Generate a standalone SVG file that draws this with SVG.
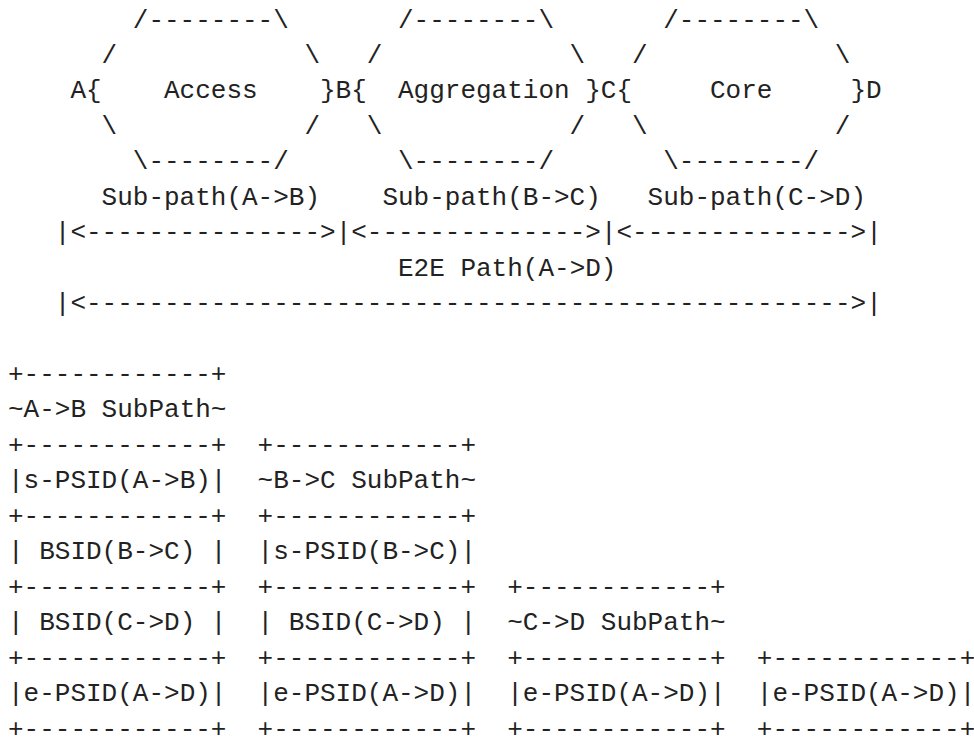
<svg xmlns="http://www.w3.org/2000/svg" width="974" height="738" viewBox="0 0 974 738">
<style>
text { font-family: "Liberation Mono", "DejaVu Sans Mono", monospace; font-size: 26px; fill: #222222; white-space: pre; }
</style>
<rect x="0" y="0" width="974" height="738" fill="#ffffff"/>
<g id="hex-access">
<text x="132.8" y="27.5">/--------\</text>
<text x="101.6" y="62.95">/</text>
<text x="304.4" y="62.95">\</text>
<text x="86" y="98.4">{</text>
<text x="164" y="98.4">Access</text>
<text x="320" y="98.4">}</text>
<text x="101.6" y="133.85">\</text>
<text x="304.4" y="133.85">/</text>
<text x="132.8" y="169.3">\--------/</text>
</g>
<g id="hex-aggregation">
<text x="398" y="27.5">/--------\</text>
<text x="366.8" y="62.95">/</text>
<text x="569.6" y="62.95">\</text>
<text x="351.2" y="98.4">{</text>
<text x="398" y="98.4">Aggregation</text>
<text x="585.2" y="98.4">}</text>
<text x="366.8" y="133.85">\</text>
<text x="569.6" y="133.85">/</text>
<text x="398" y="169.3">\--------/</text>
</g>
<g id="hex-core">
<text x="663.2" y="27.5">/--------\</text>
<text x="632" y="62.95">/</text>
<text x="834.8" y="62.95">\</text>
<text x="616.4" y="98.4">{</text>
<text x="710" y="98.4">Core</text>
<text x="850.4" y="98.4">}</text>
<text x="632" y="133.85">\</text>
<text x="834.8" y="133.85">/</text>
<text x="663.2" y="169.3">\--------/</text>
</g>
<g id="points">
<text x="70.4" y="98.4">A</text>
<text x="335.6" y="98.4">B</text>
<text x="600.8" y="98.4">C</text>
<text x="866" y="98.4">D</text>
</g>
<g id="connectors">
<text x="101.6" y="204.75">Sub-path(A-&gt;B)</text>
<text x="382.4" y="204.75">Sub-path(B-&gt;C)</text>
<text x="647.6" y="204.75">Sub-path(C-&gt;D)</text>
<text x="54.8" y="240.2">|&lt;---------------&gt;|&lt;--------------&gt;|&lt;--------------&gt;|</text>
<text x="398" y="275.65">E2E Path(A-&gt;D)</text>
<text x="54.8" y="311.1">|&lt;-------------------------------------------------&gt;|</text>
</g>
<g id="stack-ab">
<text x="8" y="382">+------------+</text>
<text x="8" y="417.45">~A-&gt;B SubPath~</text>
<text x="8" y="452.9">+------------+</text>
<text x="8" y="488.35">|s-PSID(A-&gt;B)|</text>
<text x="8" y="523.8">+------------+</text>
<text x="8" y="559.25" xml:space="preserve">| BSID(B-&gt;C) |</text>
<text x="8" y="594.7">+------------+</text>
<text x="8" y="630.15" xml:space="preserve">| BSID(C-&gt;D) |</text>
<text x="8" y="665.6">+------------+</text>
<text x="8" y="701.05">|e-PSID(A-&gt;D)|</text>
<text x="8" y="736.5">+------------+</text>
</g>
<g id="stack-bc">
<text x="257.6" y="452.9">+------------+</text>
<text x="257.6" y="488.35">~B-&gt;C SubPath~</text>
<text x="257.6" y="523.8">+------------+</text>
<text x="257.6" y="559.25">|s-PSID(B-&gt;C)|</text>
<text x="257.6" y="594.7">+------------+</text>
<text x="257.6" y="630.15" xml:space="preserve">| BSID(C-&gt;D) |</text>
<text x="257.6" y="665.6">+------------+</text>
<text x="257.6" y="701.05">|e-PSID(A-&gt;D)|</text>
<text x="257.6" y="736.5">+------------+</text>
</g>
<g id="stack-cd">
<text x="507.2" y="594.7">+------------+</text>
<text x="507.2" y="630.15">~C-&gt;D SubPath~</text>
<text x="507.2" y="665.6">+------------+</text>
<text x="507.2" y="701.05">|e-PSID(A-&gt;D)|</text>
<text x="507.2" y="736.5">+------------+</text>
</g>
<g id="stack-d">
<text x="756.8" y="665.6">+------------+</text>
<text x="756.8" y="701.05">|e-PSID(A-&gt;D)|</text>
<text x="756.8" y="736.5">+------------+</text>
</g>
</svg>
